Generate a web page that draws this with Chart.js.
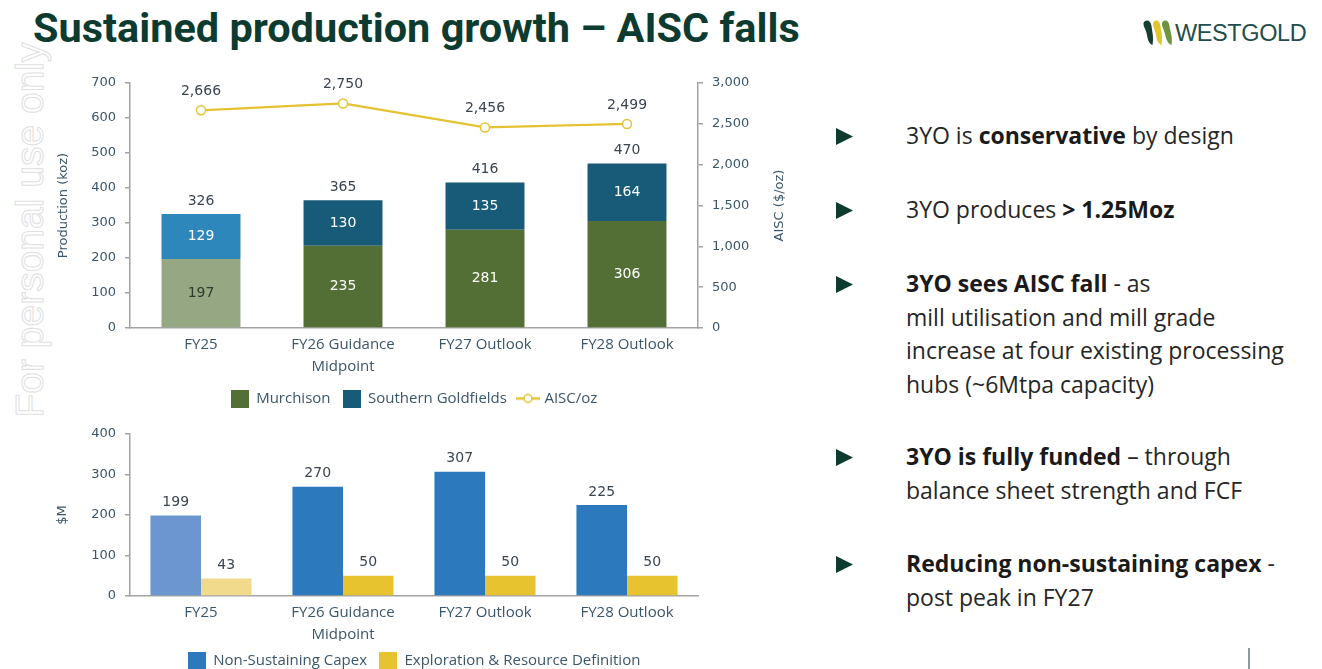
<!DOCTYPE html>
<html>
<head>
<meta charset="utf-8">
<script src="https://cdn.jsdelivr.net/npm/chart.js@4.4.1/dist/chart.umd.min.js"></script>
<style>
  html, body { margin: 0; padding: 0; width: 1322px; height: 669px; overflow: hidden; background: #ffffff; }
  #page { position: relative; width: 1322px; height: 669px; overflow: hidden; }
  #title { position: absolute; left: 33px; top: 4px; font-family: Roboto, "Liberation Sans", sans-serif; font-weight: bold; font-size: 41px; line-height: 48px; color: #0e3b2f; white-space: nowrap; transform-origin: 0 0; }
  #wm { position: absolute; left: 30px; top: 230px; transform: translate(-50%, -50%) rotate(-90deg); font-family: "Liberation Sans", Arial, sans-serif; font-size: 39px; color: transparent; -webkit-text-stroke: 1px #e0e0e0; white-space: nowrap; }
  #logo { position: absolute; left: 1143px; top: 19px; }
  #logoText { position: absolute; left: 1175px; top: 18px; font-family: "Liberation Sans", Arial, sans-serif; font-size: 23.5px; line-height: 30px; color: #1f4d4c; letter-spacing: -0.4px; white-space: nowrap; }
  .chartBox { position: absolute; left: 40px; width: 748px; }
  #topBox { top: 70px; height: 346px; }
  #botBox { top: 415px; height: 263px; }
  .bullet { position: absolute; left: 906px; font-family: "Open Sans", "Noto Sans", sans-serif; font-size: 23px; line-height: 33.5px; color: #262626; white-space: nowrap; }
  .bullet b { font-weight: 700; color: #1a1a1a; }
  .tri { position: absolute; left: 836px; width: 17px; height: 17px; }
  #pgline { position: absolute; left: 1248px; top: 648px; width: 1.5px; height: 21px; background: #8a9a9a; }
</style>
</head>
<body>
<div id="page">
  <div id="wm">For personal use only</div>
  <div id="title">Sustained production growth – AISC falls</div>

  <svg id="logo" width="32" height="28" viewBox="0 0 32 28">
    <path d="M1 3 C4 0 8 2 8.5 7 C9 12 11 18 9.5 26 C6 25 4.5 20 3.8 15 C3 10 -1 6 1 3 Z" fill="#163f33"/>
    <path d="M10.5 3 C13.5 0 17 2 17.5 7 C18 12 20 18 18.5 26 C15 25 13.5 20 12.8 15 C12 10 8.5 6 10.5 3 Z" fill="#e2c62e"/>
    <path d="M19.5 3 C22.5 0 26 2 26.5 7 C27 12 30 18 28.5 26 C25 25 23 20 22 15 C21 10 17.5 6 19.5 3 Z" fill="#6f9440"/>
  </svg>
  <div id="logoText">WESTGOLD</div>

  <div id="topBox" class="chartBox"><canvas id="prodChart"></canvas></div>
  <div id="botBox" class="chartBox"><canvas id="capexChart"></canvas></div>

  <svg class="tri" style="top:128px" viewBox="0 0 17 17"><polygon points="0,0 17,8.5 0,17" fill="#0e3b2f"/></svg>
  <svg class="tri" style="top:202px" viewBox="0 0 17 17"><polygon points="0,0 17,8.5 0,17" fill="#0e3b2f"/></svg>
  <svg class="tri" style="top:276px" viewBox="0 0 17 17"><polygon points="0,0 17,8.5 0,17" fill="#0e3b2f"/></svg>
  <svg class="tri" style="top:449px" viewBox="0 0 17 17"><polygon points="0,0 17,8.5 0,17" fill="#0e3b2f"/></svg>
  <svg class="tri" style="top:556px" viewBox="0 0 17 17"><polygon points="0,0 17,8.5 0,17" fill="#0e3b2f"/></svg>

  <div class="bullet" style="top:119px">3YO is <b>conservative</b> by design</div>
  <div class="bullet" style="top:193px">3YO produces <b>&gt; 1.25Moz</b></div>
  <div class="bullet" style="top:267px"><b>3YO sees AISC fall</b> - as<br>mill utilisation and mill grade<br>increase at four existing processing<br>hubs (~6Mtpa capacity)</div>
  <div class="bullet" style="top:440px"><b>3YO is fully funded</b> – through<br>balance sheet strength and FCF</div>
  <div class="bullet" style="top:547px"><b>Reducing non-sustaining capex</b> -<br>post peak in FY27</div>

  <div id="pgline"></div>
</div>

<script>
// ---------------- DATA ----------------
const categories = ['FY25', ['FY26 Guidance', 'Midpoint'], 'FY27 Outlook', 'FY28 Outlook'];

const murchison = [197, 235, 281, 306];
const southernGoldfields = [129, 130, 135, 164];
const productionTotals = [326, 365, 416, 470];
const aiscPerOz = [2666, 2750, 2456, 2499];

const nonSustainingCapex = [199, 270, 307, 225];
const explorationResource = [43, 50, 50, 50];

const productionAxis = { min: 0, max: 700, step: 100 };
const aiscAxis = { min: 0, max: 3000, step: 500 };
const capexAxis = { min: 0, max: 400, step: 100 };

// ---------------- STYLE ----------------
const C = {
  murch: '#536f35', murchLight: '#95a883',
  south: '#175b79', southLight: '#2e87ba',
  aisc: '#e5c232',
  capex: '#2d79be', capexLight: '#6b96cf',
  expl: '#e7c330', explLight: '#f1da8c',
  tick: '#3a566b', label: '#3b4550', axis: '#a3a3a3'
};
const TICK_FONT = { family: '"DejaVu Sans", sans-serif', size: 13 };
const CAT_FONT = { family: '"Open Sans", "Noto Sans", sans-serif', size: 15, lineHeight: 1.5 };
const LEG_FONT = { family: '"Open Sans", "Noto Sans", sans-serif', size: 15 };
const fmt = v => String(v).replace(/\B(?=(\d{3})+(?!\d))/g, ',');

Chart.defaults.font.family = '"DejaVu Sans", sans-serif';
Chart.defaults.color = C.tick;

// title fit to reference width
(function () {
  const t = document.getElementById('title');
  const w = t.scrollWidth;
  t.style.transform = 'scaleX(' + (767 / w) + ')';
})();

function boxImg(color) {
  const c = document.createElement('canvas'); c.width = 18; c.height = 18;
  const x = c.getContext('2d'); x.fillStyle = color; x.fillRect(0, 0, 18, 18); return c;
}
function lineImg(color) {
  const c = document.createElement('canvas'); c.width = 24; c.height = 12;
  const x = c.getContext('2d');
  x.strokeStyle = color; x.lineWidth = 2.5;
  x.beginPath(); x.moveTo(0, 6); x.lineTo(24, 6); x.stroke();
  x.beginPath(); x.arc(12, 6, 4, 0, Math.PI * 2); x.fillStyle = '#fff'; x.fill();
  x.lineWidth = 1.5; x.stroke();
  return c;
}

const axisCommon = (min, max, step) => ({
  min, max,
  ticks: { stepSize: step, color: C.tick, font: TICK_FONT, padding: 9, callback: v => fmt(v) },
  grid: { drawOnChartArea: false, drawTicks: true, tickLength: 5, color: C.axis, lineWidth: 1.5 },
  border: { display: true, color: C.axis, width: 1.5 }
});

const xCommon = (h) => ({
  grid: { display: false, drawTicks: false, tickLength: 0 },
  border: { display: true, color: C.axis, width: 1.5 },
  ticks: { color: C.tick, font: CAT_FONT, padding: 5, maxRotation: 0, autoSkip: false },
  afterFit(s) { s.height = h; }
});

// ---------------- PRODUCTION CHART ----------------
const prodLabels = {
  id: 'prodLabels',
  afterDatasetsDraw(chart) {
    const ctx = chart.ctx;
    ctx.save();
    ctx.font = '14px "DejaVu Sans", sans-serif';
    ctx.textAlign = 'center'; ctx.textBaseline = 'middle';
    [0, 1].forEach(di => {
      const meta = chart.getDatasetMeta(di);
      const vals = chart.data.datasets[di].data;
      meta.data.forEach((el, i) => {
        ctx.fillStyle = (di === 0 && i === 0) ? '#2e3a2c' : '#ffffff';
        ctx.fillText(String(vals[i]), el.x, (el.y + el.base) / 2);
      });
    });
    const ys = chart.scales.y;
    const m1 = chart.getDatasetMeta(1);
    ctx.fillStyle = C.label;
    productionTotals.forEach((t, i) => ctx.fillText(String(t), m1.data[i].x, ys.getPixelForValue(t) - 13));
    const m2 = chart.getDatasetMeta(2);
    aiscPerOz.forEach((v, i) => ctx.fillText(fmt(v), m2.data[i].x, m2.data[i].y - 19));
    // right-axis title (reads bottom-to-top)
    const ca = chart.chartArea;
    const y1 = chart.scales.y1;
    ctx.font = '13px "DejaVu Sans", sans-serif';
    ctx.fillStyle = C.tick;
    ctx.translate(y1.right - 8, (ca.top + ca.bottom) / 2);
    ctx.rotate(-Math.PI / 2);
    ctx.fillText('AISC ($/oz)', 0, 0);
    ctx.restore();
  }
};

new Chart(document.getElementById('prodChart'), {
  type: 'bar',
  data: {
    labels: categories,
    datasets: [
      { label: 'Murchison', data: murchison, order: 1, stack: 'p', yAxisID: 'y',
        backgroundColor: c => c.dataIndex === 0 ? C.murchLight : C.murch, borderWidth: 0 },
      { label: 'Southern Goldfields', data: southernGoldfields, order: 1, stack: 'p', yAxisID: 'y',
        backgroundColor: c => c.dataIndex === 0 ? C.southLight : C.south, borderWidth: 0 },
      { type: 'line', label: 'AISC/oz', data: aiscPerOz, order: 0, yAxisID: 'y1',
        borderColor: C.aisc, borderWidth: 2.2, tension: 0,
        pointRadius: 4.5, pointBackgroundColor: '#ffffff', pointBorderColor: C.aisc, pointBorderWidth: 1.5 }
    ]
  },
  options: {
    responsive: true, maintainAspectRatio: false, devicePixelRatio: 1, animation: false,
    layout: { padding: { top: 13, left: 0, right: 0, bottom: 0 } },
    datasets: { bar: { categoryPercentage: 1, barPercentage: 0.556 } },
    scales: {
      x: Object.assign(xCommon(51), { stacked: true }),
      y: Object.assign(axisCommon(productionAxis.min, productionAxis.max, productionAxis.step), {
        position: 'left', stacked: true,
        title: { display: true, text: 'Production (koz)', color: C.tick, font: { family: '"DejaVu Sans", sans-serif', size: 13 }, padding: { top: 16, bottom: 0 } },
        afterFit(s) { s.width = 90; s.paddingTop = 4; s.paddingBottom = 4; }
      }),
      y1: Object.assign(axisCommon(aiscAxis.min, aiscAxis.max, aiscAxis.step), {
        position: 'right',
        afterFit(s) { s.width = 90; s.paddingTop = 4; s.paddingBottom = 4; }
      })
    },
    plugins: {
      tooltip: { enabled: false },
      legend: {
        position: 'bottom',
        labels: {
          usePointStyle: true, pointStyleWidth: 18, padding: 12, color: C.tick, font: LEG_FONT,
          generateLabels: () => [
            { text: 'Murchison', pointStyle: boxImg(C.murch), fillStyle: C.murch, lineWidth: 0, hidden: false, datasetIndex: 0, fontColor: C.tick },
            { text: 'Southern Goldfields', pointStyle: boxImg(C.south), fillStyle: C.south, lineWidth: 0, hidden: false, datasetIndex: 1, fontColor: C.tick },
            { text: 'AISC/oz', pointStyle: lineImg(C.aisc), fillStyle: '#fff', lineWidth: 0, hidden: false, datasetIndex: 2, fontColor: C.tick }
          ]
        }
      }
    }
  },
  plugins: [prodLabels]
});

// ---------------- CAPEX CHART ----------------
const capexLabels = {
  id: 'capexLabels',
  afterDatasetsDraw(chart) {
    const ctx = chart.ctx;
    ctx.save();
    ctx.font = '14px "DejaVu Sans", sans-serif';
    ctx.textAlign = 'center'; ctx.textBaseline = 'middle';
    ctx.fillStyle = C.label;
    [0, 1].forEach(di => {
      const meta = chart.getDatasetMeta(di);
      const vals = chart.data.datasets[di].data;
      meta.data.forEach((el, i) => ctx.fillText(String(vals[i]), el.x, el.y - 13));
    });
    ctx.restore();
  }
};

new Chart(document.getElementById('capexChart'), {
  type: 'bar',
  data: {
    labels: categories,
    datasets: [
      { label: 'Non-Sustaining Capex', data: nonSustainingCapex,
        backgroundColor: c => c.dataIndex === 0 ? C.capexLight : C.capex, borderWidth: 0 },
      { label: 'Exploration & Resource Definition', data: explorationResource,
        backgroundColor: c => c.dataIndex === 0 ? C.explLight : C.expl, borderWidth: 0 }
    ]
  },
  options: {
    responsive: true, maintainAspectRatio: false, devicePixelRatio: 1, animation: false,
    layout: { padding: { top: 19, left: 0, right: 0, bottom: 0 } },
    datasets: { bar: { categoryPercentage: 0.712, barPercentage: 1 } },
    scales: {
      x: xCommon(45),
      y: Object.assign(axisCommon(capexAxis.min, capexAxis.max, capexAxis.step), {
        position: 'left',
        title: { display: true, text: '$M', color: C.tick, font: { family: '"DejaVu Sans", sans-serif', size: 13 }, padding: { top: 15, bottom: 0 } },
        afterFit(s) { s.width = 90; }
      }),
      yPad: {
        position: 'right', display: true,
        grid: { display: false }, border: { display: false }, ticks: { display: false },
        afterFit(s) { s.width = 90; }
      }
    },
    plugins: {
      tooltip: { enabled: false },
      legend: {
        position: 'bottom',
        labels: {
          usePointStyle: true, pointStyleWidth: 18, padding: 12, color: C.tick, font: LEG_FONT,
          generateLabels: () => [
            { text: 'Non-Sustaining Capex', pointStyle: boxImg(C.capex), fillStyle: C.capex, lineWidth: 0, hidden: false, datasetIndex: 0, fontColor: C.tick },
            { text: 'Exploration & Resource Definition', pointStyle: boxImg(C.expl), fillStyle: C.expl, lineWidth: 0, hidden: false, datasetIndex: 1, fontColor: C.tick }
          ]
        }
      }
    }
  },
  plugins: [capexLabels]
});
</script>
</body>
</html>
